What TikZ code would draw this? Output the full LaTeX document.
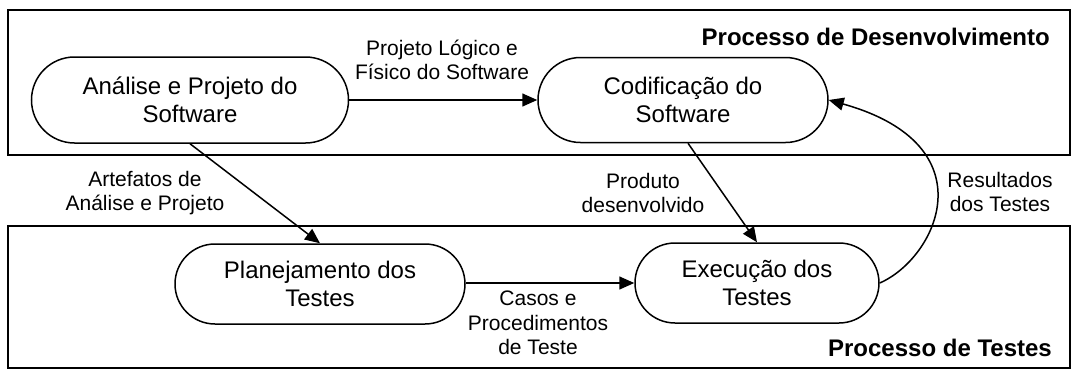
\documentclass[tikz,border=0pt]{standalone}
\usepackage{fontspec}
\setmainfont{Liberation Sans}
\usetikzlibrary{shapes.misc,arrows.meta}
\begin{document}
\begin{tikzpicture}[x=1pt,y=-1pt,
  proc/.style={rounded rectangle, draw, line width=1.5pt, align=center,
    font=\fontsize{24}{28}\selectfont, inner sep=0pt},
  lbl/.style={align=center, font=\fontsize{21}{24.5}\selectfont, inner sep=0pt},
  title/.style={font=\fontsize{24}{28}\selectfont\bfseries, inner sep=0pt, anchor=east},
  flow/.style={line width=1.5pt, -{Triangle[length=15pt,width=13pt]}},
  frame/.style={line width=1.5pt}]
\useasboundingbox (0,0) rectangle (1072,370);

% process areas
\draw[frame] (8,10) rectangle (1070,155);
\draw[frame] (8,226) rectangle (1070,368);
\node[title] (tdev) at (1050,37) {Processo de Desenvolvimento};
\node[title] (ttest) at (1052,348) {Processo de Testes};

% activities
\node[proc, minimum width=317pt, minimum height=86pt] (a) at (190,100) {Análise e Projeto do\\Software};
\node[proc, minimum width=290pt, minimum height=85pt] (c) at (683,100) {Codificação do\\Software};
\node[proc, minimum width=290pt, minimum height=80pt] (p) at (320,284) {Planejamento dos\\Testes};
\node[proc, minimum width=244pt, minimum height=80pt] (e) at (757,283) {Execução dos\\Testes};

% flows
\draw[flow] (a.east) -- (c.west);
\draw[flow] (a.south) -- (p.north);
\draw[flow] ([xshift=5pt]c.south) -- (e.north);
\draw[flow] (p.east |- e.west) -- (e.west);
\draw[flow] (e.east) .. controls (937,258) and (990,145) .. (c.east);

% flow labels
\node[lbl] (l1) at (442,60) {Projeto Lógico e\\Físico do Software};
\node[lbl] (l2) at (145,193) {Artefatos de\\Análise e Projeto};
\node[lbl] (l3) at (643,193) {Produto\\desenvolvido};
\node[lbl] (l4) at (538,323) {Casos e\\Procedimentos\\de Teste};
\node[lbl] (l5) at (1000,192) {Resultados\\dos Testes};
\end{tikzpicture}
\end{document}
